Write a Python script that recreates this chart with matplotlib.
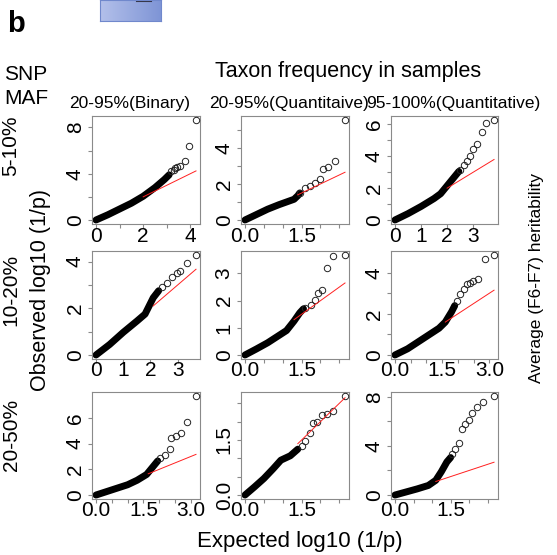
import numpy as np
import matplotlib.pyplot as plt

plt.rcParams["font.family"] = ["Liberation Sans", "DejaVu Sans"]

W, H = 557, 555

row_labels = ["5-10%", "10-20%", "20-50%"]
col_labels = ["20-95%(Binary)", "20-95%(Quantitaive)", "95-100%(Quantitative)"]

# dense part of each QQ cloud: (expected, observed)
band_11 = [(0, 0), (0.5, 0.45), (1.0, 0.95), (1.5, 1.45), (2.0, 2.05), (2.5, 2.8), (2.9, 3.5), (3.1, 3.9)]
band_12 = [(0, 0), (0.3, 0.3), (0.6, 0.6), (0.9, 0.85), (1.1, 1.0), (1.3, 1.15), (1.4, 1.35), (1.45, 1.5)]
band_13 = [(0, 0), (0.5, 0.4), (1.0, 0.85), (1.5, 1.35), (1.75, 1.65), (2.0, 2.15), (2.3, 2.75), (2.45, 3.05)]
band_21 = [(0, 0), (0.5, 0.45), (1.0, 0.97), (1.5, 1.45), (1.8, 1.75), (1.95, 2.1), (2.1, 2.45), (2.3, 2.75)]
band_22 = [(0, 0), (0.3, 0.22), (0.6, 0.45), (0.9, 0.72), (1.1, 0.9), (1.3, 1.25), (1.45, 1.55), (1.55, 1.7)]
band_23 = [(0, 0), (0.4, 0.3), (0.8, 0.7), (1.2, 1.1), (1.4, 1.3), (1.6, 1.6), (1.8, 2.1), (1.9, 2.4)]
band_31 = [(0, 0), (0.5, 0.4), (1.0, 0.8), (1.3, 1.15), (1.6, 1.6), (1.8, 2.2), (1.95, 2.65)]
band_32 = [(0, 0), (0.25, 0.22), (0.5, 0.45), (0.75, 0.72), (0.95, 0.95), (1.2, 1.07), (1.4, 1.25)]
band_33 = [(0, 0), (0.3, 0.25), (0.6, 0.5), (0.9, 0.78), (1.1, 1.2), (1.25, 1.9), (1.4, 2.7), (1.5, 3.05)]

# sparse upper tail, drawn as single open circles
tail_11 = [(3.16, 4.2), (3.3, 4.35), (3.37, 4.49), (3.45, 4.55), (3.55, 4.64), (3.79, 5.13), (3.93, 6.38), (4.24, 8.64)]
tail_12 = [(1.46, 1.49), (1.59, 1.77), (1.72, 1.9), (1.85, 2.05), (1.98, 2.29), (2.07, 2.83), (2.2, 2.92),
           (2.38, 3.26), (2.65, 5.55)]
tail_13 = [(2.5, 3.16), (2.63, 3.48), (2.75, 3.69), (2.88, 4.0), (3.0, 4.43), (3.13, 4.75), (3.32, 5.55),
           (3.51, 6.08), (3.8, 6.28)]
tail_21 = [(2.42, 2.89), (2.61, 3.1), (2.79, 3.32), (2.97, 3.53), (3.09, 3.6), (3.33, 3.95), (3.67, 4.28)]
tail_22 = [(1.59, 1.72), (1.76, 1.84), (1.85, 2.02), (1.94, 2.29), (2.03, 2.39), (2.16, 3.19), (2.34, 3.64),
           (2.65, 3.68)]
tail_23 = [(1.98, 2.64), (2.08, 2.96), (2.18, 3.2), (2.29, 3.44), (2.39, 3.52), (2.49, 3.61), (2.65, 3.69),
           (2.86, 4.65), (3.15, 4.86)]
tail_31 = [(2.02, 2.9), (2.17, 3.15), (2.33, 3.54), (2.38, 4.44), (2.54, 4.56), (2.69, 4.82), (2.87, 5.71),
           (3.16, 7.7)]
tail_32 = [(1.5, 1.34), (1.59, 1.47), (1.72, 1.7), (1.81, 1.96), (1.91, 1.98), (2.03, 2.19), (2.16, 2.2),
           (2.34, 2.3), (2.65, 2.7)]
tail_33 = [(1.54, 3.34), (1.63, 3.74), (1.72, 4.27), (1.81, 5.34), (1.9, 5.74), (1.99, 6.14), (2.07, 6.67),
           (2.2, 7.2), (2.38, 7.6), (2.67, 8.06)]

bands = [band_11, band_12, band_13, band_21, band_22, band_23, band_31, band_32, band_33]
tails = [tail_11, tail_12, tail_13, tail_21, tail_22, tail_23, tail_31, tail_32, tail_33]

# y = x reference line starts here in each panel
fit_from = [2.0, 1.4, 2.0, 2.1, 1.3, 1.6, 1.65, 1.4, 1.1]

half = [0, 0.5, 1.0, 1.5, 2.0, 2.5]
x_ticks = [[0, 1, 2, 3, 4], half, [0, 1, 2, 3],
           [0, 1, 2, 3], half, half + [3.0],
           half + [3.0], half, half]
x_shown = [[0, 2, 4], [0, 1.5], [0, 1, 2, 3],
           [0, 1, 2, 3], [0, 1.5], [0, 1.5, 3.0],
           [0, 1.5, 3.0], [0, 1.5], [0, 1.5]]
y_ticks = [[0, 2, 4, 6, 8], [0, 1, 2, 3, 4, 5], [0, 1, 2, 3, 4, 5, 6],
           [0, 1, 2, 3, 4], [0, 1, 2, 3], [0, 1, 2, 3, 4],
           [0, 2, 4, 6], half, [0, 2, 4, 6, 8]]
y_shown = [[0, 4, 8], [0, 2, 4], [0, 2, 4, 6],
           [0, 2, 4], [0, 1, 2, 3], [0, 2, 4],
           [0, 2, 4, 6], [0, 1.5], [0, 4, 8]]
x_fmt = ["%d", "%.1f", "%d", "%d", "%.1f", "%.1f", "%.1f", "%.1f", "%.1f"]
y_fmt = ["%d", "%d", "%d", "%d", "%d", "%d", "%d", "%.1f", "%d"]

col_left = [92, 241, 391]
col_right = [200, 349, 498]
row_top = [116, 251, 392]
row_bottom = [224, 359, 499]

fig = plt.figure(figsize=(W / 100, H / 100), dpi=100)


def px_axes(x0, y0, x1, y1):
    return fig.add_axes([x0 / W, 1 - y1 / H, (x1 - x0) / W, (y1 - y0) / H])


def labels_for(ticks, shown, fmt):
    return [fmt % t if any(abs(t - s) < 1e-9 for s in shown) else "" for t in ticks]


def r_limits(vals):
    lo, hi = min(vals), max(vals)
    pad = 0.04 * (hi - lo)
    return lo - pad, hi + pad


for k in range(9):
    r, c = divmod(k, 3)
    ax = px_axes(col_left[c], row_top[r], col_right[c], row_bottom[r])
    bx, by = zip(*bands[k])
    tx, ty = zip(*tails[k])
    ax.plot(bx, by, color="black", lw=5, solid_capstyle="round",
            solid_joinstyle="round", zorder=2)
    ax.plot(tx, ty, "o", ms=4.6, mfc="none", mec="#222222", mew=0.7, zorder=3)
    ex = max(bx + tx)
    ax.plot([fit_from[k], ex], [fit_from[k], ex], color="#ff2020", lw=0.7, zorder=4)

    ax.set_xlim(r_limits(bx + tx))
    ax.set_ylim(r_limits(by + ty))
    ax.set_xticks(x_ticks[k])
    ax.set_xticklabels(labels_for(x_ticks[k], x_shown[k], x_fmt[k]))
    ax.set_yticks(y_ticks[k])
    ax.set_yticklabels(labels_for(y_ticks[k], y_shown[k], y_fmt[k]))
    for s in ax.spines.values():
        s.set_color("#8a8a8a")
        s.set_linewidth(0.8)
    ax.tick_params(direction="out", length=2.8, width=0.8, color="#8a8a8a",
                   labelsize=15, labelcolor="black")
    ax.tick_params(axis="x", pad=-1)
    ax.tick_params(axis="y", pad=2.5, labelrotation=90)
    for lab in ax.get_yticklabels():
        lab.set_va("center")

# panel letter and the strip of the figure above
fig.text(7 / W, 1 - 31.5 / H, "b", fontsize=21, fontweight="bold", va="baseline")
box = px_axes(100, 0, 161, 21)
grad = np.linspace(0, 1, 64)[None, :]
box.imshow(grad, cmap=plt.matplotlib.colors.LinearSegmentedColormap.from_list(
    "strip", ["#b3c0ea", "#7f95d6"]), aspect="auto", extent=[0, 1, 0, 1])
box.plot([0.6, 0.84], [0.97, 0.97], color="#333344", lw=1.5)
box.set_xlim(0, 1)
box.set_ylim(0, 1)
box.set_xticks([])
box.set_yticks([])
for s in box.spines.values():
    s.set_color("#7088cc")
    s.set_linewidth(0.8)

fig.text(4 / W, 1 - 80 / H, "SNP", fontsize=15, va="baseline")
fig.text(4 / W, 1 - 103.5 / H, "MAF", fontsize=15, va="baseline")
fig.text(348 / W, 1 - 77 / H, "Taxon frequency in samples", fontsize=15.5,
         ha="center", va="baseline")

col_centers = [130, 289, 453]
for c, lab in enumerate(col_labels):
    fig.text(col_centers[c] / W, 1 - 108 / H, lab, fontsize=12.5,
             ha="center", va="baseline")

row_centers = [146, 290, 435]
for r, lab in enumerate(row_labels):
    fig.text(11 / W, 1 - row_centers[r] / H, lab, fontsize=15, rotation=90,
             ha="center", va="center")

fig.text(41 / W, 1 - 290 / H, "Observed log10 (1/p)", fontsize=15.5, rotation=90,
         ha="center", va="center")
fig.text(300 / W, 1 - 547 / H, "Expected log10 (1/p)", fontsize=16,
         ha="center", va="baseline")
fig.text(537 / W, 1 - 278 / H, "Average (F6-F7) heritability", fontsize=12.5,
         rotation=90, ha="center", va="center")

fig.savefig("out.png", dpi=100)
